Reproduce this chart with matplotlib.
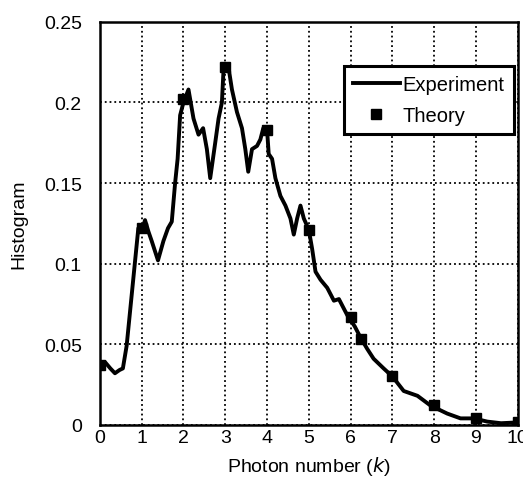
import matplotlib.pyplot as plt

plt.rcParams['font.family'] = ['Liberation Sans', 'DejaVu Sans']

# experiment histogram
k_exp = [0, 0.12, 0.25, 0.36, 0.47, 0.55, 0.64, 0.92, 1.0, 1.08, 1.16, 1.24, 1.39,
         1.52, 1.63, 1.72, 1.80, 1.86, 1.92, 2.0, 2.12, 2.24, 2.36, 2.47, 2.56, 2.64,
         2.76, 2.84, 2.92, 2.96, 3.07, 3.16, 3.28, 3.40, 3.48, 3.55, 3.64, 3.76, 3.84,
         3.91, 4.0, 4.04, 4.12, 4.2, 4.32, 4.44, 4.56, 4.64, 4.72, 4.80, 4.88, 5.0,
         5.08, 5.16, 5.28, 5.44, 5.6, 5.72, 5.92, 6.1, 6.24, 6.4, 6.55, 6.79, 7.0,
         7.27, 7.6, 7.91, 8.31, 8.63, 8.95, 9.27, 9.6, 10.0]
h_exp = [0.037, 0.039, 0.035, 0.032, 0.034, 0.035, 0.049, 0.122, 0.120, 0.127, 0.120,
         0.114, 0.102, 0.114, 0.122, 0.126, 0.150, 0.165, 0.192, 0.200, 0.208, 0.190,
         0.180, 0.184, 0.171, 0.153, 0.175, 0.190, 0.200, 0.221, 0.223, 0.208, 0.194,
         0.184, 0.171, 0.157, 0.171, 0.173, 0.177, 0.184, 0.183, 0.168, 0.165, 0.153,
         0.142, 0.136, 0.128, 0.118, 0.128, 0.136, 0.128, 0.121, 0.109, 0.095, 0.090,
         0.085, 0.077, 0.078, 0.068, 0.061, 0.054, 0.047, 0.041, 0.035, 0.030, 0.021,
         0.018, 0.012, 0.007, 0.004, 0.004, 0.002, 0.001, 0.0015]

# theory points
k_th = [0, 1, 2, 3, 4, 5, 6, 6.25, 7, 8, 9, 10]
h_th = [0.037, 0.122, 0.202, 0.222, 0.183, 0.121, 0.067, 0.053, 0.030, 0.012, 0.004, 0.0015]

x_ticks = list(range(0, 11))
y_ticks = [0, 0.05, 0.1, 0.15, 0.2, 0.25]
y_labels = ['0', '0.05', '0.1', '0.15', '0.2', '0.25']

fig = plt.figure(figsize=(5.23, 4.85), dpi=100)
ax = fig.add_axes([0.191, 0.122, 0.799, 0.831])

ax.plot(k_exp, h_exp, color='black', linewidth=2.8, label='Experiment', zorder=3)
ax.plot(k_th, h_th, linestyle='none', marker='s', markersize=7.5, color='black',
        label='Theory', zorder=4)

ax.set_xlim(0, 10)
ax.set_ylim(0, 0.25)
ax.set_xticks(x_ticks)
ax.set_yticks(y_ticks)
ax.set_yticklabels(y_labels)
ax.tick_params(axis='y', length=0, labelsize=14, pad=13)
ax.tick_params(axis='x', length=0, labelsize=14, pad=3)
ax.grid(True, color='black', linestyle=':', linewidth=1.3)
for s in ax.spines.values():
    s.set_linewidth(1.8)

ax.set_xlabel('Photon number ($\\it{k}$)', fontsize=14, labelpad=6)
ax.set_ylabel('Histogram', fontsize=14, labelpad=12)

leg = ax.legend(loc='upper right', bbox_to_anchor=(0.99, 0.89), fontsize=14.5,
                frameon=True, fancybox=False, shadow=False, handlelength=2.3,
                handletextpad=0.15, borderpad=0.45, labelspacing=0.6, framealpha=1,
                borderaxespad=0)
leg.get_frame().set_edgecolor('black')
leg.get_frame().set_linewidth(2.2)

fig.savefig('out.png', dpi=100)
